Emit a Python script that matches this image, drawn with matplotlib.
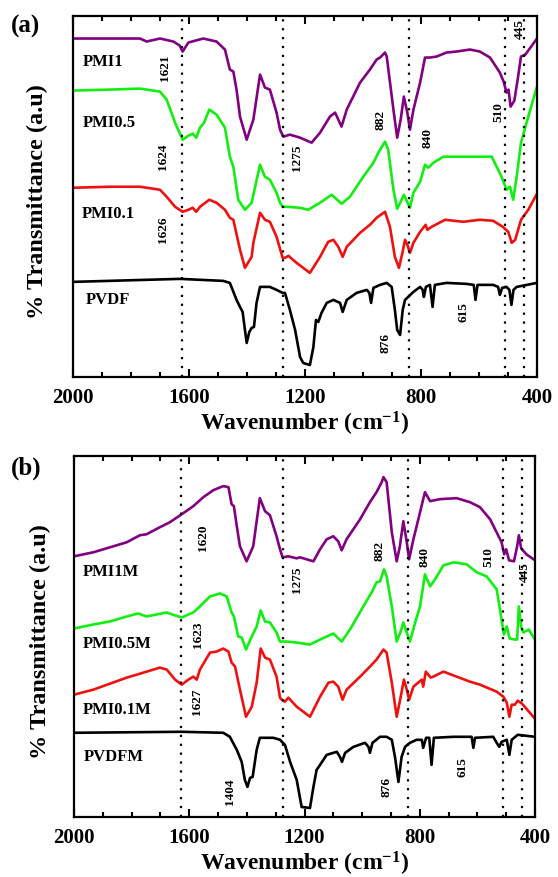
import matplotlib
matplotlib.use('Agg')
import matplotlib.pyplot as plt
from matplotlib.ticker import MultipleLocator

plt.rcParams['font.family'] = ['Liberation Serif', 'DejaVu Serif']
plt.rcParams['font.weight'] = 'bold'
plt.rcParams['mathtext.fontset'] = 'custom'
plt.rcParams['mathtext.rm'] = 'Liberation Serif:bold'
plt.rcParams['mathtext.bf'] = 'Liberation Serif:bold'
plt.rcParams['mathtext.it'] = 'Liberation Serif:bold'

# ---- panel (a): as-prepared films ----
pmi1_wn = [2000, 1769, 1746, 1700, 1654, 1632, 1622, 1602, 1551, 1505, 1476, 1459, 1447, 1436, 1424,
           1401, 1378, 1355, 1338, 1321, 1298, 1286, 1275, 1252, 1217, 1177, 1148, 1114, 1096, 1074,
           1056, 1010, 976, 953, 941, 924, 918, 895, 882, 870, 859, 847, 838, 826, 803, 786, 769, 746,
           712, 677, 631, 597, 562, 528, 515, 505, 498, 491, 478, 465, 455, 440, 420, 400]
pmi1_t = [338, 338, 335, 338, 335, 331, 325, 334, 338, 335, 327, 307, 305, 287, 260,
          237, 257, 302, 289, 287, 264, 247, 240, 242, 239, 234, 244, 260, 264, 250,
          267, 294, 307, 317, 319, 324, 320, 267, 239, 257, 280, 264, 247, 267, 294, 319, 319, 320,
          324, 325, 327, 325, 319, 304, 295, 284, 287, 270, 276, 300, 320, 322, 330, 338]

pmi05_wn = [2000, 1872, 1769, 1700, 1677, 1648, 1622, 1602, 1587, 1575, 1562, 1548, 1530, 1505, 1476,
            1459, 1447, 1430, 1407, 1384, 1355, 1338, 1321, 1298, 1286, 1277, 1263, 1217, 1189, 1148,
            1108, 1074, 1045, 999, 964, 947, 924, 913, 895, 882, 867, 859, 838, 826, 803, 786, 775,
            757, 723, 677, 597, 556, 522, 505, 493, 482, 470, 455, 430, 400]
pmi05_t = [286, 287, 288, 285, 277, 254, 237, 241, 243, 239, 249, 254, 267, 262, 249,
           220, 210, 177, 167, 174, 212, 200, 197, 184, 174, 170, 170, 169, 167, 174,
           182, 173, 180, 200, 214, 224, 235, 227, 187, 168, 177, 182, 169, 184, 195, 212, 209,
           214, 220, 220, 220, 220, 200, 187, 190, 177, 200, 234, 260, 290]

pmi01_wn = [2000, 1872, 1769, 1700, 1677, 1648, 1622, 1602, 1587, 1575, 1562, 1530, 1505, 1476, 1459,
            1447, 1424, 1407, 1384, 1378, 1355, 1338, 1321, 1298, 1277, 1269, 1257, 1229, 1183, 1148,
            1120, 1102, 1085, 1070, 1056, 1010, 976, 953, 924, 907, 890, 876, 864, 855, 847, 838,
            826, 803, 784, 778, 763, 717, 654, 597, 551, 518, 499, 487, 475, 455, 430, 400]
pmi01_t = [189, 190, 190, 187, 180, 170, 165, 167, 169, 165, 170, 177, 174, 167, 159,
           157, 127, 109, 120, 134, 164, 157, 155, 140, 119, 119, 121, 114, 104, 120,
           135, 137, 130, 120, 130, 144, 152, 159, 165, 150, 120, 109, 124, 137, 132, 124,
           134, 145, 152, 147, 150, 157, 155, 157, 156, 150, 145, 134, 137, 157, 167, 183]

pvdf_wn = [2000, 1631, 1482, 1459, 1436, 1424, 1415, 1407, 1401, 1392, 1384, 1376, 1367, 1355, 1321,
           1298, 1277, 1269, 1252, 1234, 1217, 1206, 1183, 1171, 1162, 1154, 1143, 1125, 1102, 1079,
           1070, 1056, 1022, 987, 978, 972, 964, 941, 918, 901, 890, 882, 872, 863, 855, 844, 826,
           803, 794, 790, 783, 769, 760, 752, 712, 643, 618, 612, 605, 551, 534, 528, 520, 505,
           495, 488, 481, 470, 400]
pvdf_t = [95, 98, 96, 94, 77, 70, 65, 47, 34, 45, 49, 50, 74, 90, 90,
          87, 84, 84, 67, 47, 20, 14, 12, 30, 57, 55, 64, 74, 77, 74,
          65, 77, 84, 87, 84, 74, 89, 92, 94, 90, 67, 47, 42, 67, 77, 80, 85,
          90, 87, 80, 90, 92, 70, 92, 94, 93, 92, 77, 92, 92, 90, 82, 89, 90,
          87, 72, 87, 90, 94]

# ---- panel (b): modified films ----
pmi1m_wn = [2000, 1933, 1875, 1817, 1771, 1748, 1702, 1667, 1626, 1586, 1551, 1516, 1482, 1464, 1453,
            1445, 1435, 1424, 1401, 1378, 1355, 1337, 1320, 1297, 1285, 1276, 1256, 1227, 1216, 1169,
            1146, 1123, 1100, 1083, 1071, 1054, 1007, 973, 950, 932, 926, 915, 897, 880, 869, 857,
            845, 837, 822, 799, 782, 764, 730, 672, 626, 591, 556, 516, 507, 500, 490, 473, 462,
            456, 448, 430, 400]
pmi1m_t = [260, 264, 269, 274, 281, 282, 289, 294, 302, 310, 319, 326, 330, 329, 312,
           310, 290, 270, 255, 270, 318, 305, 301, 280, 267, 259, 260, 258, 259, 255,
           267, 277, 280, 275, 266, 277, 297, 314, 324, 334, 339, 334, 284, 255, 270, 295,
           274, 257, 277, 304, 324, 315, 317, 318, 314, 309, 297, 274, 262, 267, 256, 255, 270,
           281, 268, 262, 256]

pmi05m_wn = [2000, 1933, 1875, 1817, 1777, 1748, 1678, 1649, 1626, 1586, 1563, 1528, 1493, 1470, 1453,
             1445, 1430, 1418, 1403, 1383, 1366, 1352, 1337, 1320, 1297, 1285, 1262, 1227, 1181, 1146,
             1100, 1071, 1042, 996, 967, 950, 938, 924, 915, 897, 880, 866, 857, 845, 834, 816,
             799, 782, 764, 747, 718, 683, 637, 602, 568, 533, 516, 508, 498, 488, 470, 462, 456,
             448, 440, 422, 400]
pmi05m_t = [188, 192, 195, 200, 203, 200, 204, 201, 199, 204, 210, 220, 223, 220, 204,
            200, 180, 179, 167, 180, 190, 206, 195, 194, 184, 175, 175, 174, 172, 177,
            183, 175, 187, 210, 224, 234, 235, 247, 240, 210, 175, 185, 194, 184, 175, 194,
            210, 242, 230, 237, 251, 254, 252, 244, 240, 227, 197, 182, 190, 178, 177, 177, 210,
            190, 184, 187, 177]

pmi01m_wn = [2000, 1933, 1875, 1817, 1759, 1702, 1678, 1649, 1626, 1603, 1586, 1574, 1563, 1528, 1505,
             1482, 1464, 1453, 1441, 1424, 1403, 1383, 1366, 1352, 1337, 1320, 1297, 1285, 1279, 1268,
             1256, 1227, 1181, 1146, 1117, 1100, 1083, 1068, 1054, 1007, 973, 950, 926, 915, 897,
             880, 866, 855, 845, 837, 822, 793, 788, 779, 762, 753, 718, 672, 626, 591, 533, 510,
             498, 489, 481, 470, 460, 445, 430, 400]
pmi01m_t = [122, 127, 133, 139, 144, 149, 147, 137, 132, 137, 140, 137, 147, 164, 165,
            168, 165, 154, 150, 127, 100, 110, 134, 168, 159, 157, 140, 119, 117, 115,
            119, 110, 100, 120, 134, 135, 130, 117, 127, 140, 150, 157, 167, 164, 134,
            100, 120, 137, 127, 117, 130, 137, 130, 145, 139, 140, 145, 140, 135, 132, 125, 120,
            114, 100, 112, 112, 116, 113, 108, 98]

pvdfm_wn = [2000, 1626, 1482, 1459, 1435, 1418, 1407, 1398, 1389, 1380, 1366, 1355, 1308, 1285, 1268,
            1250, 1227, 1210, 1181, 1169, 1158, 1146, 1123, 1088, 1077, 1070, 1059, 1030, 990, 978,
            973, 964, 938, 915, 897, 886, 874, 863, 851, 834, 811, 793, 788, 778, 767, 759, 751,
            683, 620, 614, 608, 545, 533, 524, 516, 498, 489, 481, 460, 400]
pvdfm_t = [84, 85, 84, 80, 67, 55, 37, 30, 39, 40, 67, 79, 79, 77, 72,
           55, 37, 10, 9, 30, 47, 52, 62, 65, 60, 55, 64, 70, 74, 70,
           64, 74, 80, 80, 77, 60, 35, 60, 70, 74, 77, 77, 69, 79, 79, 52, 79,
           80, 80, 69, 79, 80, 74, 70, 75, 77, 62, 77, 82, 80]

colors = ['#800080', '#11ee11', '#ee1111', 'black']
ref_lines_a = [1624, 1275, 840, 510, 445]
ref_lines_b = [1627, 1275, 840, 510, 445]


def DrawPanel(ax, curves, names, name_pos, refs, peaks):
    for (wn, t), c in zip(curves, colors):
        ax.plot(wn, t, color=c, lw=1.9, solid_joinstyle='round')
    for r in refs:
        ax.axvline(r, color='black', lw=1.6, linestyle=(0, (1, 3)))
    for name, (x, y) in zip(names, name_pos):
        ax.text(x, y, name, fontsize=12, fontweight='bold', ha='left', va='center')
    for label, x, y in peaks:
        ax.text(x, y, label, fontsize=9.5, fontweight='bold', rotation=90, ha='center', va='center')
    ax.set_xlim(2000, 400)
    ax.set_ylim(0, 360)
    ax.set_yticks([])
    ax.xaxis.set_major_locator(MultipleLocator(400))
    ax.xaxis.set_minor_locator(MultipleLocator(100))
    ax.tick_params(axis='x', which='both', direction='in', top=True, width=1.5, labelsize=15, pad=8)
    ax.tick_params(axis='x', which='major', length=5.5)
    ax.tick_params(axis='x', which='minor', length=3.5)
    for lab in ax.get_xticklabels():
        lab.set_fontweight('bold')
    for s in ax.spines.values():
        s.set_linewidth(1.6)
    ax.set_xlabel('Wavenumber (cm$^{-1}$)', fontsize=17, fontweight='bold', labelpad=1)


fig = plt.figure(figsize=(5.58, 8.77), dpi=100)
axA = fig.add_axes([0.1308, 0.5701, 0.8315, 0.4111])
axB = fig.add_axes([0.1326, 0.0684, 0.8262, 0.4116])

DrawPanel(axA,
          [(pmi1_wn, pmi1_t), (pmi05_wn, pmi05_t), (pmi01_wn, pmi01_t), (pvdf_wn, pvdf_t)],
          ['PMI1', 'PMI0.5', 'PMI0.1', 'PVDF'],
          [(1966, 315), (1967, 254), (1970, 163), (1955, 77)],
          ref_lines_a,
          [('1621', 1683, 309), ('1624', 1690, 220), ('1626', 1690, 147), ('1275', 1228, 219),
           ('882', 941, 257), ('840', 779, 239), ('510', 534, 265), ('445', 459, 347),
           ('876', 924, 34), ('615', 655, 65)])

DrawPanel(axB,
          [(pmi1m_wn, pmi1m_t), (pmi05m_wn, pmi05m_t), (pmi01m_wn, pmi01m_t), (pvdfm_wn, pvdfm_t)],
          ['PMI1M', 'PMI0.5M', 'PMI0.1M', 'PVDFM'],
          [(1968, 244), (1968, 173), (1970, 107), (1965, 60)],
          ref_lines_b,
          [('1620', 1552, 279), ('1623', 1570, 182), ('1627', 1573, 115), ('1404', 1459, 25),
           ('1275', 1226, 237), ('882', 938, 265), ('840', 785, 259), ('510', 563, 259),
           ('445', 435, 244), ('876', 914, 30), ('615', 653, 50)])

fig.text(37 / 558, 1 - 202 / 877, '% Transmittance (a.u)', rotation=90, fontsize=17.5,
         fontweight='bold', ha='center', va='center')
fig.text(40 / 558, 1 - 642 / 877, '% Transmittance (a.u)', rotation=90, fontsize=17.5,
         fontweight='bold', ha='center', va='center')
fig.text(26 / 558, 1 - 26 / 877, '(a)', fontsize=18, fontweight='bold', ha='center', va='center')
fig.text(26 / 558, 1 - 468 / 877, '(b)', fontsize=18, fontweight='bold', ha='center', va='center')

fig.savefig('out.png', dpi=100)
